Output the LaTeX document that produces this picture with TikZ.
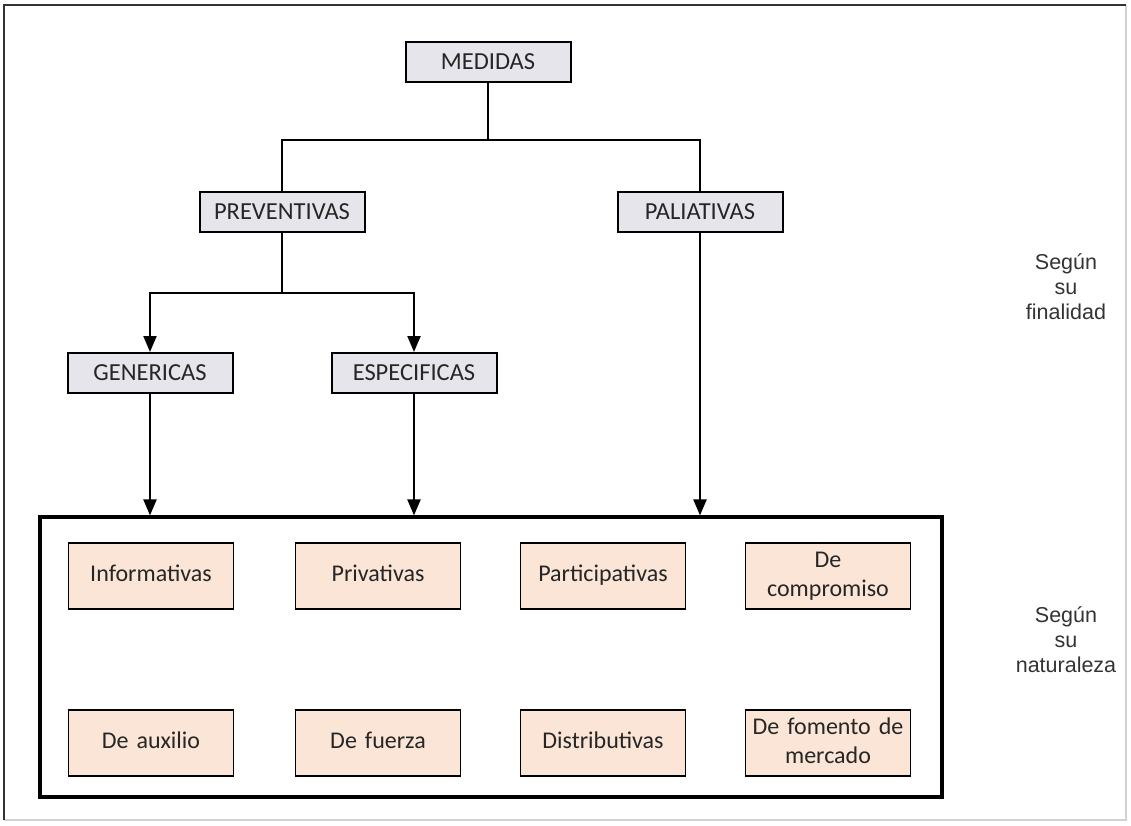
\documentclass[tikz,border=0pt]{standalone}
\usepackage{fontspec}
\setmainfont{Carlito}
\newfontfamily\arialfont{Liberation Sans}
\usetikzlibrary{arrows.meta}
\definecolor{boxgray}{RGB}{229,229,235}
\definecolor{boxpeach}{RGB}{251,229,214}
\tikzstyle{medida}=[rectangle, draw, line width=2pt, fill=boxgray, text=black!85,
  minimum width=165pt, minimum height=40pt, inner sep=0pt, font=\fontsize{24.5}{30}\selectfont]
\tikzstyle{tipo}=[rectangle, draw, line width=1.7pt, fill=boxpeach, text=black!85,
  minimum width=165pt, minimum height=66pt, text width=162pt, align=center,
  inner sep=0pt, font=\fontsize{24}{29}\selectfont,
  execute at begin node=\strut, execute at end node=\strut]
\tikzstyle{criterio}=[align=center, text=black!80, font=\arialfont\fontsize{21.5}{25}\selectfont]
\newcommand{\medida}{\node[medida]}
\newcommand{\tipo}{\node[tipo]}

\begin{document}
\begin{tikzpicture}[x=1pt, y=-1pt, line width=2.2pt
  ,>={Triangle[length=16pt,width=13pt]}
]
\useasboundingbox (0,0) rectangle (1131,825);
% frame
\draw[gray!35, line width=1.5pt] (1126,5) -- (1126,820) -- (4,820);
\draw[black!80, line width=2pt] (4,820) -- (4,5) -- (1126,5);

\medida (medidas)     at (488, 62) {MEDIDAS};
\medida (preventivas) at (282,212) {PREVENTIVAS};
\medida (paliativas)  at (700,212) {PALIATIVAS};
\medida (genericas)   at (150,373) {GENERICAS};
\medida (especificas) at (414,373) {ESPECIFICAS};

\node[draw, line width=3.2pt, minimum width=902pt, minimum height=280pt] (naturaleza) at (491,657) {};
\tipo (informativas)   at (151,576) {Informativas};
\tipo (privativas)     at (378,576) {Privativas};
\tipo (participativas) at (603,576) {Participativas};
\tipo (compromiso)     at (828,576) {De\\compromiso};
\tipo (auxilio)        at (151,743) {De auxilio};
\tipo (fuerza)         at (378,743) {De fuerza};
\tipo (distributivas)  at (603,743) {Distributivas};
\tipo (fomento)        at (828,743) {De fomento de\\mercado};

\node[criterio] (segfinalidad)  at (1066,287) {Según\\su\\finalidad};
\node[criterio] (segnaturaleza) at (1066,640) {Según\\su\\naturaleza};

\coordinate (j1) at (488,140);
\coordinate (j2) at (282,293);
\draw (medidas) -- (j1);
\draw (preventivas) |- (j1) -| (paliativas);
\draw (preventivas) -- (j2);
\draw[->] (j2) -| (genericas);
\draw[->] (j2) -| (especificas);
\draw[->] (genericas) -- (genericas |- naturaleza.north);
\draw[->] (especificas) -- (especificas |- naturaleza.north);
\draw[->] (paliativas) -- (paliativas |- naturaleza.north);
\end{tikzpicture}
\end{document}
